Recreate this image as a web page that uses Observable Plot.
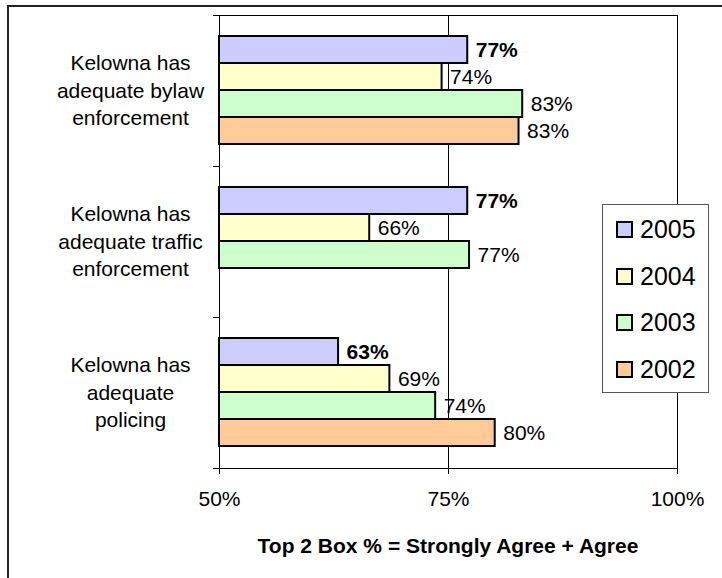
<!DOCTYPE html>
<html>
<head>
<meta charset="utf-8">
<script src="https://cdn.jsdelivr.net/npm/d3@7"></script>
<script src="https://cdn.jsdelivr.net/npm/@observablehq/plot@0.6"></script>
<style>
  body { margin: 0; background: #fff; }
  #wrap { position: relative; width: 722px; height: 578px; overflow: hidden;
          font-family: "Liberation Sans", Arial, sans-serif; color: #000; }
  #frame { position: absolute; left: 7px; top: 5px; width: 800px; height: 700px;
           border: 2px solid #222; box-sizing: border-box; }
  #chart { position: absolute; left: 0; top: 0; }
  #xtitle { position: absolute; left: 219px; width: 458px; top: 535px; text-align: center;
            font-weight: bold; font-size: 21px; line-height: 21px; white-space: nowrap; }
  #legend { position: absolute; left: 602px; top: 204px; width: 107px; height: 189px;
            box-sizing: border-box; border: 1px solid #555; background: #fff; }
  .sw { position: absolute; width: 17px; height: 17px; box-sizing: border-box; border: 2px solid #000; }
  .lt { position: absolute; font-size: 25px; line-height: 25px; white-space: nowrap; }
</style>
</head>
<body>
<div id="wrap">
  <div id="frame"></div>
  <div id="chart"></div>
  <div id="xtitle"></div>
  <div id="legend"></div>
</div>
<script>
// ---- data ----
const questions = [
  "Kelowna has\nadequate bylaw\nenforcement",
  "Kelowna has\nadequate traffic\nenforcement",
  "Kelowna has\nadequate\npolicing"
];
const years = ["2005", "2004", "2003", "2002"];
const yearColors = ["#CCCCFF", "#FFFFCC", "#CCFFCC", "#FFCC99"];
const values2005 = [77.1, 77.1, 63.0];
const values2004 = [74.3, 66.4, 68.6];
const values2003 = [83.1, 77.3, 73.6];
const values2002 = [82.7, null, 80.1];
const xTicks = [50, 75, 100];
const xTitle = "Top 2 Box % = Strongly Agree + Agree";
const boldYear = "2005";

// ---- build table ----
const seriesByYear = { "2005": values2005, "2004": values2004, "2003": values2003, "2002": values2002 };
const rows = [];
questions.forEach((q, i) => {
  years.forEach(y => {
    const v = seriesByYear[y][i];
    if (v != null) rows.push({ q, year: y, value: v });
  });
});
const fmt = d => Math.round(d.value) + "%";

// ---- layout ----
const W = 722, H = 578, mL = 219, mR = 45, mT = 14, mB = 109;
const plotW = W - mL - mR;
const font = "'Liberation Sans', Arial, sans-serif";

const chart = Plot.plot({
  width: W, height: H,
  marginLeft: mL, marginRight: mR, marginTop: mT, marginBottom: mB,
  style: { fontFamily: font, fontSize: "21px", color: "#000", background: "transparent", overflow: "visible" },
  x: { domain: [xTicks[0], xTicks[xTicks.length - 1]] },
  y: { domain: years, padding: 0, insetTop: 20, insetBottom: 21, axis: null },
  fy: { domain: questions, padding: 0 },
  color: { domain: years, range: yearColors },
  marks: [
    Plot.ruleX(xTicks, { stroke: "#000", strokeWidth: 1 }),
    Plot.frame({ anchor: "top", insetLeft: -6, insetRight: plotW, stroke: "#000" }),
    Plot.frame({ anchor: "top", fy: questions[0], insetLeft: -6, stroke: "#000" }),
    Plot.frame({ anchor: "bottom", fy: questions[questions.length - 1], insetLeft: -6, stroke: "#000" }),
    Plot.barX(rows, { fy: "q", y: "year", x1: xTicks[0], x2: "value", fill: "year", stroke: "#000", strokeWidth: 2 }),
    Plot.text(rows.filter(d => d.year !== boldYear), { fy: "q", y: "year", x: "value", text: fmt, dx: 8, textAnchor: "start", fontSize: 21, fill: "#000" }),
    Plot.text(rows.filter(d => d.year === boldYear), { fy: "q", y: "year", x: "value", text: fmt, dx: 8, textAnchor: "start", fontSize: 21, fontWeight: "bold", fill: "#000" }),
    Plot.axisFy({ anchor: "left", tickSize: 0, tickPadding: mL - 130, textAnchor: "middle", fontSize: 21, lineHeight: 1.31, dy: -2, label: null }),
    Plot.axisX({ ticks: xTicks, tickFormat: d => d + "%", tickSize: 6, tickPadding: 17, fontSize: 21, label: null })
  ]
});
document.getElementById("chart").appendChild(chart);

document.getElementById("xtitle").textContent = xTitle;

// ---- legend ----
const wrap = document.getElementById("wrap");
years.forEach((y, i) => {
  const sw = document.createElement("div");
  sw.className = "sw";
  sw.style.left = "616px";
  sw.style.top = (221 + 46.5 * i) + "px";
  sw.style.background = yearColors[i];
  wrap.appendChild(sw);
  const t = document.createElement("div");
  t.className = "lt";
  t.style.left = "640px";
  t.style.top = (217 + 46.5 * i) + "px";
  t.textContent = y;
  wrap.appendChild(t);
});
</script>
</body>
</html>
